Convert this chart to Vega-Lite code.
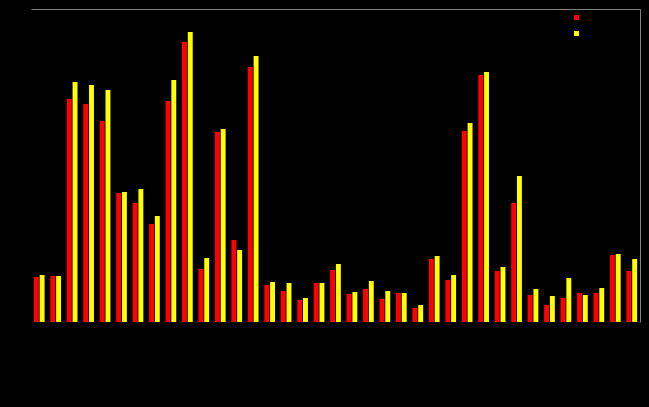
{
  "$schema": "https://vega.github.io/schema/vega-lite/v6.json",
  "width": 609,
  "height": 313,
  "autosize": {"type": "none"},
  "padding": {"left": 31, "top": 9, "right": 9, "bottom": 85},
  "background": "black",
  "config": {"view": {"stroke": null}},
  "data": {"values": [
    {"g":1,"s":"Series 1","v":45},{"g":1,"s":"Series 2","v":47},
    {"g":2,"s":"Series 1","v":46},{"g":2,"s":"Series 2","v":46},
    {"g":3,"s":"Series 1","v":223},{"g":3,"s":"Series 2","v":240},
    {"g":4,"s":"Series 1","v":218},{"g":4,"s":"Series 2","v":237},
    {"g":5,"s":"Series 1","v":201},{"g":5,"s":"Series 2","v":232},
    {"g":6,"s":"Series 1","v":129},{"g":6,"s":"Series 2","v":130},
    {"g":7,"s":"Series 1","v":119},{"g":7,"s":"Series 2","v":133},
    {"g":8,"s":"Series 1","v":98},{"g":8,"s":"Series 2","v":106},
    {"g":9,"s":"Series 1","v":221},{"g":9,"s":"Series 2","v":242},
    {"g":10,"s":"Series 1","v":280},{"g":10,"s":"Series 2","v":290},
    {"g":11,"s":"Series 1","v":53},{"g":11,"s":"Series 2","v":64},
    {"g":12,"s":"Series 1","v":190},{"g":12,"s":"Series 2","v":193},
    {"g":13,"s":"Series 1","v":82},{"g":13,"s":"Series 2","v":72},
    {"g":14,"s":"Series 1","v":255},{"g":14,"s":"Series 2","v":266},
    {"g":15,"s":"Series 1","v":37},{"g":15,"s":"Series 2","v":40},
    {"g":16,"s":"Series 1","v":31},{"g":16,"s":"Series 2","v":39},
    {"g":17,"s":"Series 1","v":22},{"g":17,"s":"Series 2","v":24},
    {"g":18,"s":"Series 1","v":39},{"g":18,"s":"Series 2","v":39},
    {"g":19,"s":"Series 1","v":52},{"g":19,"s":"Series 2","v":58},
    {"g":20,"s":"Series 1","v":28},{"g":20,"s":"Series 2","v":30},
    {"g":21,"s":"Series 1","v":33},{"g":21,"s":"Series 2","v":41},
    {"g":22,"s":"Series 1","v":23},{"g":22,"s":"Series 2","v":31},
    {"g":23,"s":"Series 1","v":29},{"g":23,"s":"Series 2","v":29},
    {"g":24,"s":"Series 1","v":14},{"g":24,"s":"Series 2","v":17},
    {"g":25,"s":"Series 1","v":63},{"g":25,"s":"Series 2","v":66},
    {"g":26,"s":"Series 1","v":42},{"g":26,"s":"Series 2","v":47},
    {"g":27,"s":"Series 1","v":191},{"g":27,"s":"Series 2","v":199},
    {"g":28,"s":"Series 1","v":247},{"g":28,"s":"Series 2","v":250},
    {"g":29,"s":"Series 1","v":51},{"g":29,"s":"Series 2","v":55},
    {"g":30,"s":"Series 1","v":119},{"g":30,"s":"Series 2","v":146},
    {"g":31,"s":"Series 1","v":27},{"g":31,"s":"Series 2","v":33},
    {"g":32,"s":"Series 1","v":17},{"g":32,"s":"Series 2","v":26},
    {"g":33,"s":"Series 1","v":24},{"g":33,"s":"Series 2","v":44},
    {"g":34,"s":"Series 1","v":29},{"g":34,"s":"Series 2","v":27},
    {"g":35,"s":"Series 1","v":29},{"g":35,"s":"Series 2","v":34},
    {"g":36,"s":"Series 1","v":67},{"g":36,"s":"Series 2","v":68},
    {"g":37,"s":"Series 1","v":51},{"g":37,"s":"Series 2","v":63}
  ]},
  "mark": {"type": "bar"},
  "encoding": {
    "x": {
      "field": "g", "type": "ordinal",
      "scale": {"paddingInner": 0.35, "paddingOuter": 0.175},
      "axis": {"orient": "top", "domainColor": "#808080", "domainWidth": 1, "labels": false, "ticks": false, "title": null, "grid": false}
    },
    "xOffset": {"field": "s", "type": "nominal", "scale": {"paddingInner": 0.15}},
    "y": {
      "field": "v", "type": "quantitative",
      "scale": {"domain": [0, 313], "nice": false},
      "axis": {"orient": "right", "domainColor": "#808080", "domainWidth": 1, "labels": false, "ticks": false, "title": null, "grid": false}
    },
    "color": {
      "field": "s", "type": "nominal",
      "scale": {"domain": ["Series 1", "Series 2"], "range": ["#ff0000", "#ffff00"]},
      "legend": {
        "orient": "none", "legendX": 540, "legendY": 3,
        "title": null, "symbolType": "square", "symbolSize": 25,
        "symbolStrokeWidth": 0, "labelColor": "black", "labelFontSize": 11,
        "rowPadding": 4
      }
    }
  }
}
